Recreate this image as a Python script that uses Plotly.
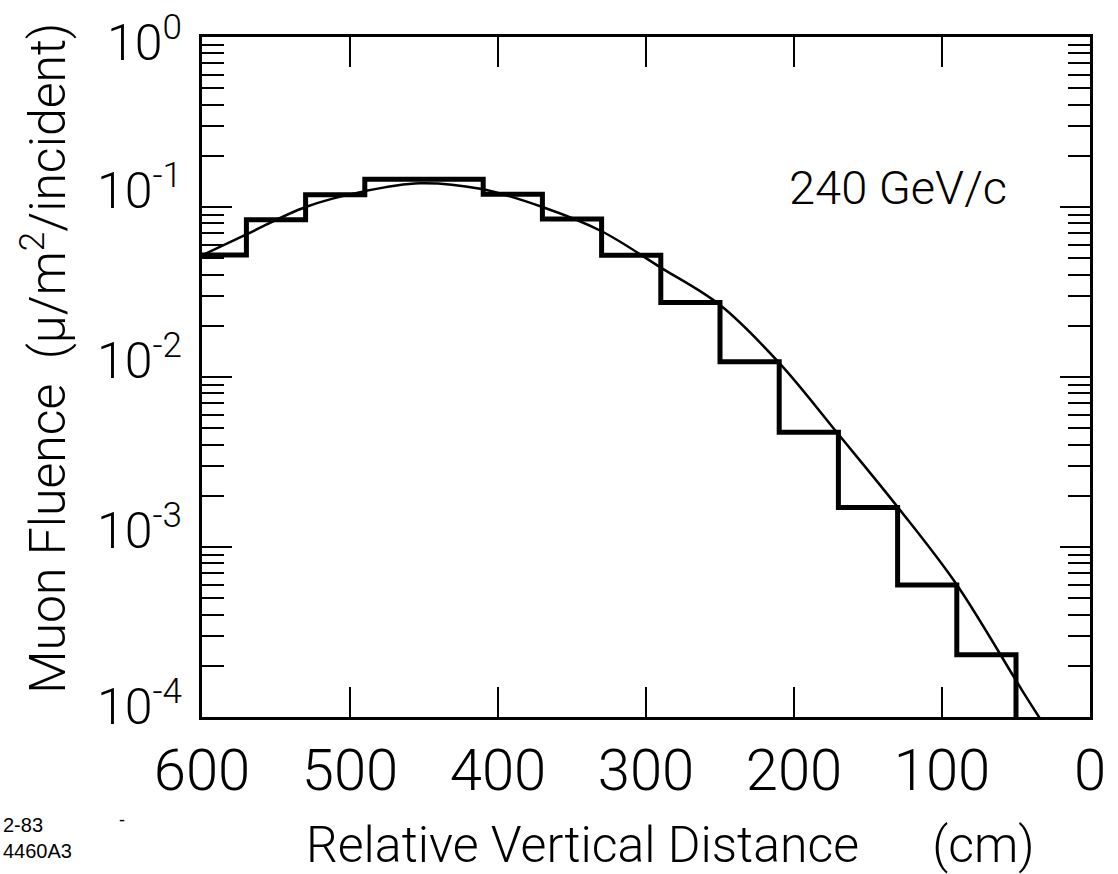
import math
import plotly.graph_objects as go

# Histogram (step) data: left edges of bins (cm) and fluence values
step_x = [600, 570, 530, 490, 450, 410, 370, 330, 290, 250, 210, 170, 130, 90, 50]
step_y = [0.0522, 0.084, 0.118, 0.1455, 0.1455, 0.119, 0.085, 0.052, 0.0274,
          0.0123, 0.00473, 0.00171, 0.000598, 0.000232, 0.00001]

# Smooth fitted curve
curve_x = [600, 570, 530, 490, 453, 412, 370, 330, 290, 250, 210, 170, 130, 90, 46, 30]
curve_y = [0.052, 0.069, 0.100, 0.124, 0.138, 0.128, 0.100, 0.072, 0.044, 0.0265,
           0.0121, 0.0046, 0.00172, 0.0006, 0.000144, 0.000087]

x_ticks = [600, 500, 400, 300, 200, 100, 0]
x_ticktext = ["600", "500", "400", "300", "200", "100", "0"]
y_ticks = [1, 0.1, 0.01, 0.001, 0.0001]
y_ticktext = ["10<sup>0</sup>", "10<sup>-1</sup>", "10<sup>-2</sup>", "10<sup>-3</sup>", "10<sup>-4</sup>"]
y_label_shift = [-2, 20, 20, 20, 14]   # vertical offset (px) of each y tick label
y_minor = [m * d for d in [0.0001, 0.001, 0.01, 0.1] for m in range(2, 10)]

FONT = "Roboto, Lato, sans-serif"
W = 300

fig = go.Figure()
fig.add_trace(go.Scatter(x=curve_x, y=curve_y, mode="lines",
                         line=dict(color="black", width=2.5, shape="spline", smoothing=1.0),
                         showlegend=False, hoverinfo="skip"))
fig.add_trace(go.Scatter(x=step_x, y=step_y, mode="lines",
                         line=dict(color="black", width=5, shape="hv"),
                         showlegend=False, hoverinfo="skip"))

fig.update_layout(
    width=1118, height=874,
    margin=dict(l=202, r=26, t=37, b=157),
    paper_bgcolor="white", plot_bgcolor="white",
    font=dict(family=FONT, color="black", weight=W),
    xaxis=dict(range=[600, 0], tickmode="array", tickvals=x_ticks, ticktext=x_ticktext,
               ticks="inside", ticklen=30, tickwidth=2, tickcolor="black",
               showline=True, linewidth=3, linecolor="black", mirror="ticks",
               showgrid=False, zeroline=False,
               tickfont=dict(family=FONT, size=58, color="black", weight=W),
               ticklabelstandoff=0),
    yaxis=dict(type="log", range=[-4, 0], tickmode="array", tickvals=y_ticks,
               showticklabels=False,
               ticks="inside", ticklen=30, tickwidth=2, tickcolor="black",
               showline=True, linewidth=3, linecolor="black", mirror="ticks",
               showgrid=False, zeroline=False,
               minor=dict(tickmode="array", tickvals=y_minor, ticks="inside", ticklen=22,
                          tickwidth=2, tickcolor="black", showgrid=False)),
)

for v, txt, sh in zip(y_ticks, y_ticktext, y_label_shift):
    fig.add_annotation(text=txt, xref="paper", yref="y", x=-0.02, y=math.log10(v),
                       xanchor="right", yanchor="middle", yshift=sh, showarrow=False,
                       font=dict(family=FONT, size=50, color="black", weight=W))

fig.add_annotation(text="Relative Vertical Distance\u00a0\u00a0\u00a0\u00a0\u00a0\u00a0(cm)",
                   xref="paper", yref="paper", x=0.528, y=-0.188, xanchor="center", yanchor="middle",
                   showarrow=False, font=dict(family=FONT, size=50, color="black", weight=W))
fig.add_annotation(text="Muon Fluence\u00a0\u00a0(\u03bc/m<sup>2</sup>/incident)",
                   xref="paper", yref="paper", x=-0.177, y=0.528, xanchor="center", yanchor="middle",
                   textangle=-90, showarrow=False, font=dict(family=FONT, size=50, color="black", weight=W))
fig.add_annotation(text="240 GeV/c", xref="paper", yref="paper", x=0.784, y=0.778,
                   xanchor="center", yanchor="middle", showarrow=False,
                   font=dict(family=FONT, size=47, color="black", weight=W))
fig.add_annotation(text="2-83<br>4460A3", xref="paper", yref="paper", x=-0.226, y=-0.14,
                   xanchor="left", yanchor="top", align="left", showarrow=False,
                   font=dict(family="Liberation Sans, Arial, sans-serif", size=20, color="black"))
fig.add_annotation(text="-", xref="paper", yref="paper", x=-0.09, y=-0.152,
                   xanchor="center", yanchor="middle", showarrow=False,
                   font=dict(family="Liberation Sans, Arial, sans-serif", size=18, color="black"))

fig.write_html("out.html")
